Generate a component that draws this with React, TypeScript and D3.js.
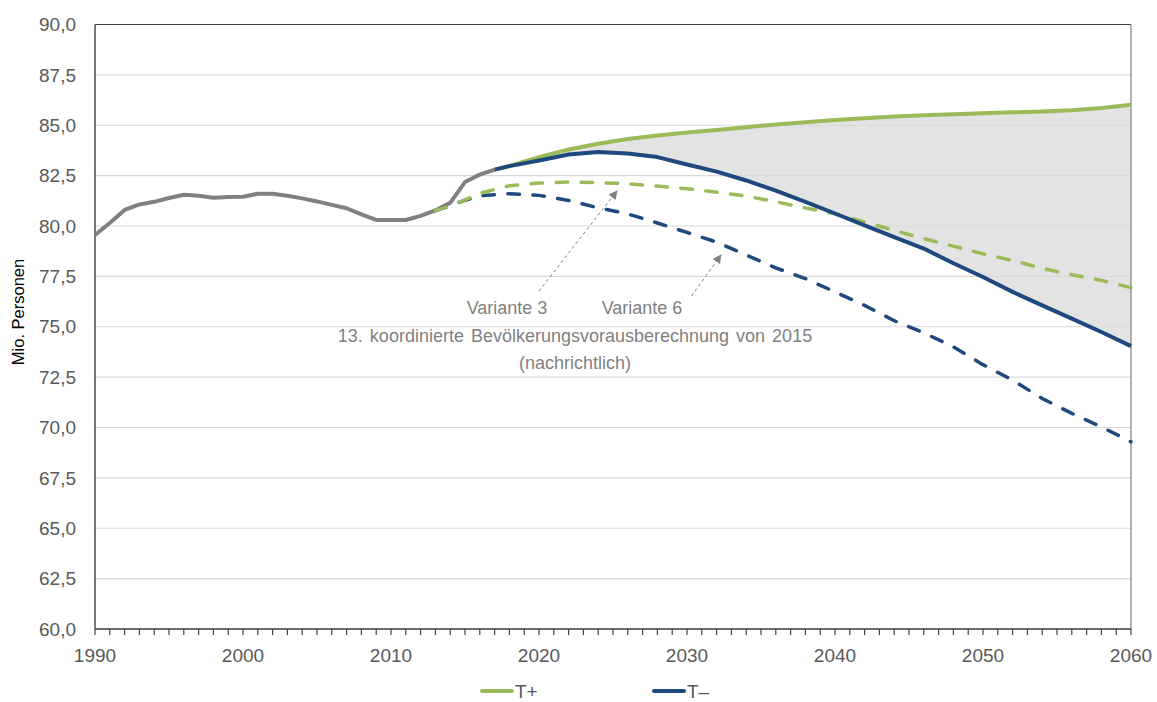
import React from "react";
import * as d3 from "d3";

// historical population (Mio.)
const histYears = [1990, 1991, 1992, 1993, 1994, 1995, 1996, 1997, 1998, 1999, 2000, 2001, 2002, 2003, 2004, 2005, 2006, 2007, 2008, 2009, 2010, 2011, 2012, 2013, 2014, 2015, 2016, 2017];
const histValues = [79.55, 80.15, 80.8, 81.07, 81.2, 81.39, 81.55, 81.5, 81.4, 81.44, 81.45, 81.6, 81.6, 81.5, 81.37, 81.22, 81.05, 80.88, 80.58, 80.3, 80.3, 80.3, 80.5, 80.77, 81.15, 82.18, 82.55, 82.8];

// projections T+ / T-
const projYears = [2017, 2018, 2020, 2022, 2024, 2026, 2028, 2030, 2032, 2034, 2036, 2038, 2040, 2042, 2044, 2046, 2048, 2050, 2052, 2054, 2056, 2058, 2060];
const tPlus = [82.8, 82.98, 83.42, 83.8, 84.08, 84.32, 84.49, 84.64, 84.76, 84.9, 85.04, 85.15, 85.26, 85.35, 85.44, 85.5, 85.55, 85.6, 85.64, 85.68, 85.74, 85.86, 86.02];
const tMinus = [82.8, 82.97, 83.25, 83.55, 83.67, 83.6, 83.42, 83.05, 82.7, 82.26, 81.76, 81.2, 80.62, 80.03, 79.45, 78.88, 78.15, 77.47, 76.73, 76.06, 75.4, 74.74, 74.04];

// 13. koordinierte Bevoelkerungsvorausberechnung 2015
const varYears = [2013, 2014, 2015, 2016, 2018, 2020, 2022, 2024, 2026, 2028, 2030, 2032, 2034, 2036, 2038, 2040, 2042, 2044, 2046, 2048, 2050, 2052, 2054, 2056, 2058, 2060];
const variante3 = [80.77, 81.0, 81.3, 81.62, 82.0, 82.13, 82.18, 82.15, 82.1, 81.98, 81.85, 81.68, 81.48, 81.2, 80.9, 80.6, 80.2, 79.78, 79.37, 79.0, 78.62, 78.29, 77.9, 77.58, 77.3, 76.94];
const variante6 = [80.77, 81.0, 81.28, 81.5, 81.6, 81.52, 81.27, 80.9, 80.6, 80.15, 79.68, 79.2, 78.56, 77.92, 77.39, 76.73, 76.06, 75.3, 74.7, 74.0, 73.12, 72.35, 71.44, 70.7, 70.03, 69.29];

const yTicks = [60, 62.5, 65, 67.5, 70, 72.5, 75, 77.5, 80, 82.5, 85, 87.5, 90];
const xLabels = [1990, 2000, 2010, 2020, 2030, 2040, 2050, 2060];

const GREEN = "#9bbb59";
const BLUE = "#1f497d";
const GREY = "#808080";
const FONT = "'Liberation Sans', Arial, sans-serif";

export default function App() {
  const width = 1157;
  const height = 702;
  const x = d3.scaleLinear().domain([1990, 2060]).range([95, 1131]);
  const y = d3.scaleLinear().domain([60, 90]).range([629, 24.5]);

  const line = d3
    .line<[number, number]>()
    .x((d) => x(d[0]))
    .y((d) => y(d[1]));

  const zip = (xs: number[], vs: number[]) => xs.map((v, i) => [v, vs[i]] as [number, number]);

  const area = d3
    .area<number>()
    .x((d, i) => x(projYears[i]))
    .y0((d, i) => y(tMinus[i]))
    .y1((d) => y(d));

  const years = d3.range(1990, 2061);
  const fmt = (v: number) => v.toFixed(1).replace(".", ",");

  const dash = "11.5 13.5";

  return (
    <svg width={width} height={height} style={{ position: "absolute", left: 0, top: 0 }} fontFamily={FONT}>
      <defs>
        <marker id="arr" viewBox="0 0 10 10" refX="9" refY="5" markerWidth="9" markerHeight="9" markerUnits="userSpaceOnUse" orient="auto">
          <path d="M0,0 L10,5 L0,10 z" fill={GREY} />
        </marker>
      </defs>

      <path d={area(tPlus) || ""} fill="#e3e3e3" />

      {yTicks.map((t) => (
        <line key={t} x1={x(1990)} x2={x(2060)} y1={y(t)} y2={y(t)} stroke="#d9d9d9" strokeWidth={1.2} />
      ))}

      {/* frame */}
      <line x1={x(1990)} x2={x(2060)} y1={y(90)} y2={y(90)} stroke="#404040" strokeWidth={1.2} />
      <line x1={x(2060)} x2={x(2060)} y1={y(90)} y2={y(60)} stroke="#808080" strokeWidth={1.2} />
      <line x1={x(1990)} x2={x(1990)} y1={y(90)} y2={y(60)} stroke="#404040" strokeWidth={1.4} />
      <line x1={x(1990)} x2={x(2060)} y1={y(60)} y2={y(60)} stroke="#404040" strokeWidth={1.4} />
      {years.map((yr) => (
        <line key={yr} x1={x(yr)} x2={x(yr)} y1={y(60)} y2={y(60) + 6} stroke="#404040" strokeWidth={1.2} />
      ))}

      {yTicks.map((t) => (
        <text key={t} x={76} y={y(t)} dy="0.35em" textAnchor="end" fontSize={19} fill="#595959">
          {fmt(t)}
        </text>
      ))}
      {xLabels.map((t) => (
        <text key={t} x={x(t)} y={662} textAnchor="middle" fontSize={19} fill="#595959">
          {t}
        </text>
      ))}
      <text transform={`translate(24,312) rotate(-90)`} textAnchor="middle" fontSize={16.5} fill="#000">
        Mio. Personen
      </text>

      {/* series */}
      <path d={line(zip(histYears, histValues)) || ""} fill="none" stroke={GREY} strokeWidth={4} strokeLinejoin="round" />
      <path d={line(zip(varYears, variante6)) || ""} fill="none" stroke={BLUE} strokeWidth={3.5} strokeDasharray={dash} strokeLinecap="round" />
      <path d={line(zip(varYears, variante3)) || ""} fill="none" stroke={GREEN} strokeWidth={3.5} strokeDasharray={dash} strokeLinecap="round" />
      <path d={line(zip(projYears, tPlus)) || ""} fill="none" stroke={GREEN} strokeWidth={4} strokeLinejoin="round" />
      <path d={line(zip(projYears, tMinus)) || ""} fill="none" stroke={BLUE} strokeWidth={4} strokeLinejoin="round" />

      {/* annotations */}
      <line x1={539} y1={291} x2={617} y2={191} stroke={GREY} strokeWidth={1} strokeDasharray="3 3" markerEnd="url(#arr)" />
      <line x1={691.5} y1={296} x2={721} y2={255} stroke={GREY} strokeWidth={1} strokeDasharray="3 3" markerEnd="url(#arr)" />
      <text x={507} y={314} textAnchor="middle" fontSize={18} fill="#7f7f7f">Variante 3</text>
      <text x={642} y={314} textAnchor="middle" fontSize={18} fill="#7f7f7f">Variante 6</text>
      <text x={575} y={342} textAnchor="middle" fontSize={18} fill="#7f7f7f" wordSpacing={2}>
        13. koordinierte Bevölkerungsvorausberechnung von 2015
      </text>
      <text x={575} y={369} textAnchor="middle" fontSize={18} fill="#7f7f7f">(nachrichtlich)</text>

      {/* legend */}
      <line x1={482} x2={512} y1={691} y2={691} stroke={GREEN} strokeWidth={4} strokeLinecap="round" />
      <text x={515} y={698} fontSize={19} fill="#595959">T+</text>
      <line x1={654} x2={684} y1={691} y2={691} stroke={BLUE} strokeWidth={4} strokeLinecap="round" />
      <text x={687} y={698} fontSize={19} fill="#595959">T–</text>
    </svg>
  );
}
